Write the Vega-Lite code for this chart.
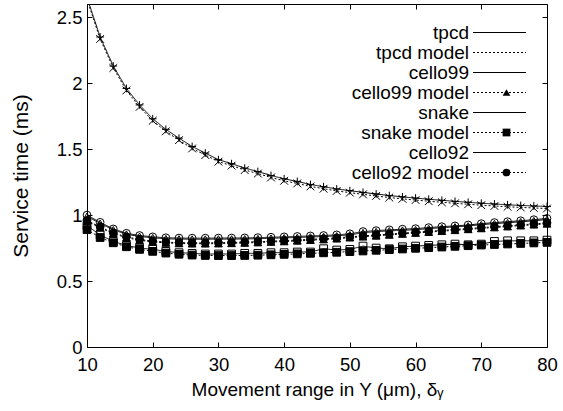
{
"$schema":"https://vega.github.io/schema/vega-lite/v6.json",
"width":460,"height":343,"autosize":"none",
"padding":{"left":87,"top":4,"right":16,"bottom":64},
"background":"white",
"config":{"view":{"stroke":"black","strokeWidth":1},
"font":"Liberation Sans",
"axis":{"grid":false,"domain":false,"tickColor":"black","tickSize":-5,"labelColor":"black","titleColor":"black","labelFont":"Liberation Sans","titleFont":"Liberation Sans","labelFontSize":18.5,"titleFontSize":19,"titleFontWeight":"normal","labelFlush":false,"labelOverlap":false},
"legend":{"labelFont":"Liberation Sans","labelColor":"black"}},
"data":{"values":[
{"x":10,"series":"tpcd","ms":2.65},{"x":12,"series":"tpcd","ms":2.35},{"x":14,"series":"tpcd","ms":2.13},{"x":16,"series":"tpcd","ms":1.96},{"x":18,"series":"tpcd","ms":1.835},{"x":20,"series":"tpcd","ms":1.73},{"x":22,"series":"tpcd","ms":1.65},{"x":24,"series":"tpcd","ms":1.583},{"x":26,"series":"tpcd","ms":1.52},{"x":28,"series":"tpcd","ms":1.47},{"x":30,"series":"tpcd","ms":1.42},{"x":32,"series":"tpcd","ms":1.39},{"x":34,"series":"tpcd","ms":1.356},{"x":36,"series":"tpcd","ms":1.33},{"x":38,"series":"tpcd","ms":1.3},{"x":40,"series":"tpcd","ms":1.275},{"x":42,"series":"tpcd","ms":1.255},{"x":44,"series":"tpcd","ms":1.232},{"x":46,"series":"tpcd","ms":1.215},{"x":48,"series":"tpcd","ms":1.198},{"x":50,"series":"tpcd","ms":1.185},{"x":52,"series":"tpcd","ms":1.172},{"x":54,"series":"tpcd","ms":1.16},{"x":56,"series":"tpcd","ms":1.148},{"x":58,"series":"tpcd","ms":1.138},{"x":60,"series":"tpcd","ms":1.129},{"x":62,"series":"tpcd","ms":1.12},{"x":64,"series":"tpcd","ms":1.112},{"x":66,"series":"tpcd","ms":1.104},{"x":68,"series":"tpcd","ms":1.097},{"x":70,"series":"tpcd","ms":1.09},{"x":72,"series":"tpcd","ms":1.084},{"x":74,"series":"tpcd","ms":1.078},{"x":76,"series":"tpcd","ms":1.073},{"x":78,"series":"tpcd","ms":1.069},{"x":80,"series":"tpcd","ms":1.065},
{"x":10,"series":"tpcd model","ms":2.635},{"x":12,"series":"tpcd model","ms":2.335},{"x":14,"series":"tpcd model","ms":2.115},{"x":16,"series":"tpcd model","ms":1.945},{"x":18,"series":"tpcd model","ms":1.82},{"x":20,"series":"tpcd model","ms":1.715},{"x":22,"series":"tpcd model","ms":1.635},{"x":24,"series":"tpcd model","ms":1.568},{"x":26,"series":"tpcd model","ms":1.505},{"x":28,"series":"tpcd model","ms":1.455},{"x":30,"series":"tpcd model","ms":1.405},{"x":32,"series":"tpcd model","ms":1.375},{"x":34,"series":"tpcd model","ms":1.341},{"x":36,"series":"tpcd model","ms":1.315},{"x":38,"series":"tpcd model","ms":1.285},{"x":40,"series":"tpcd model","ms":1.26},{"x":42,"series":"tpcd model","ms":1.24},{"x":44,"series":"tpcd model","ms":1.217},{"x":46,"series":"tpcd model","ms":1.2},{"x":48,"series":"tpcd model","ms":1.183},{"x":50,"series":"tpcd model","ms":1.17},{"x":52,"series":"tpcd model","ms":1.157},{"x":54,"series":"tpcd model","ms":1.145},{"x":56,"series":"tpcd model","ms":1.133},{"x":58,"series":"tpcd model","ms":1.123},{"x":60,"series":"tpcd model","ms":1.114},{"x":62,"series":"tpcd model","ms":1.105},{"x":64,"series":"tpcd model","ms":1.097},{"x":66,"series":"tpcd model","ms":1.089},{"x":68,"series":"tpcd model","ms":1.082},{"x":70,"series":"tpcd model","ms":1.075},{"x":72,"series":"tpcd model","ms":1.069},{"x":74,"series":"tpcd model","ms":1.063},{"x":76,"series":"tpcd model","ms":1.058},{"x":78,"series":"tpcd model","ms":1.054},{"x":80,"series":"tpcd model","ms":1.05},
{"x":10,"series":"cello99","ms":0.99},{"x":12,"series":"cello99","ms":0.937},{"x":14,"series":"cello99","ms":0.888},{"x":16,"series":"cello99","ms":0.855},{"x":18,"series":"cello99","ms":0.838},{"x":20,"series":"cello99","ms":0.828},{"x":22,"series":"cello99","ms":0.82},{"x":24,"series":"cello99","ms":0.818},{"x":26,"series":"cello99","ms":0.817},{"x":28,"series":"cello99","ms":0.817},{"x":30,"series":"cello99","ms":0.818},{"x":32,"series":"cello99","ms":0.818},{"x":34,"series":"cello99","ms":0.819},{"x":36,"series":"cello99","ms":0.821},{"x":38,"series":"cello99","ms":0.824},{"x":40,"series":"cello99","ms":0.827},{"x":42,"series":"cello99","ms":0.83},{"x":44,"series":"cello99","ms":0.834},{"x":46,"series":"cello99","ms":0.837},{"x":48,"series":"cello99","ms":0.842},{"x":50,"series":"cello99","ms":0.85},{"x":52,"series":"cello99","ms":0.866},{"x":54,"series":"cello99","ms":0.874},{"x":56,"series":"cello99","ms":0.88},{"x":58,"series":"cello99","ms":0.885},{"x":60,"series":"cello99","ms":0.889},{"x":62,"series":"cello99","ms":0.897},{"x":64,"series":"cello99","ms":0.904},{"x":66,"series":"cello99","ms":0.91},{"x":68,"series":"cello99","ms":0.917},{"x":70,"series":"cello99","ms":0.927},{"x":72,"series":"cello99","ms":0.935},{"x":74,"series":"cello99","ms":0.942},{"x":76,"series":"cello99","ms":0.949},{"x":78,"series":"cello99","ms":0.957},{"x":80,"series":"cello99","ms":0.967},
{"x":10,"series":"cello99 model","ms":0.954},{"x":12,"series":"cello99 model","ms":0.904},{"x":14,"series":"cello99 model","ms":0.859},{"x":16,"series":"cello99 model","ms":0.829},{"x":18,"series":"cello99 model","ms":0.809},{"x":20,"series":"cello99 model","ms":0.797},{"x":22,"series":"cello99 model","ms":0.789},{"x":24,"series":"cello99 model","ms":0.785},{"x":26,"series":"cello99 model","ms":0.783},{"x":28,"series":"cello99 model","ms":0.783},{"x":30,"series":"cello99 model","ms":0.784},{"x":32,"series":"cello99 model","ms":0.786},{"x":34,"series":"cello99 model","ms":0.789},{"x":36,"series":"cello99 model","ms":0.792},{"x":38,"series":"cello99 model","ms":0.796},{"x":40,"series":"cello99 model","ms":0.8},{"x":42,"series":"cello99 model","ms":0.805},{"x":44,"series":"cello99 model","ms":0.81},{"x":46,"series":"cello99 model","ms":0.815},{"x":48,"series":"cello99 model","ms":0.821},{"x":50,"series":"cello99 model","ms":0.829},{"x":52,"series":"cello99 model","ms":0.836},{"x":54,"series":"cello99 model","ms":0.843},{"x":56,"series":"cello99 model","ms":0.85},{"x":58,"series":"cello99 model","ms":0.857},{"x":60,"series":"cello99 model","ms":0.864},{"x":62,"series":"cello99 model","ms":0.871},{"x":64,"series":"cello99 model","ms":0.878},{"x":66,"series":"cello99 model","ms":0.885},{"x":68,"series":"cello99 model","ms":0.892},{"x":70,"series":"cello99 model","ms":0.899},{"x":72,"series":"cello99 model","ms":0.906},{"x":74,"series":"cello99 model","ms":0.913},{"x":76,"series":"cello99 model","ms":0.92},{"x":78,"series":"cello99 model","ms":0.927},{"x":80,"series":"cello99 model","ms":0.934},
{"x":10,"series":"snake","ms":0.92},{"x":12,"series":"snake","ms":0.85},{"x":14,"series":"snake","ms":0.8},{"x":16,"series":"snake","ms":0.77},{"x":18,"series":"snake","ms":0.75},{"x":20,"series":"snake","ms":0.74},{"x":22,"series":"snake","ms":0.725},{"x":24,"series":"snake","ms":0.715},{"x":26,"series":"snake","ms":0.71},{"x":28,"series":"snake","ms":0.705},{"x":30,"series":"snake","ms":0.705},{"x":32,"series":"snake","ms":0.705},{"x":34,"series":"snake","ms":0.71},{"x":36,"series":"snake","ms":0.71},{"x":38,"series":"snake","ms":0.715},{"x":40,"series":"snake","ms":0.715},{"x":42,"series":"snake","ms":0.72},{"x":44,"series":"snake","ms":0.72},{"x":46,"series":"snake","ms":0.745},{"x":48,"series":"snake","ms":0.735},{"x":50,"series":"snake","ms":0.74},{"x":52,"series":"snake","ms":0.765},{"x":54,"series":"snake","ms":0.75},{"x":56,"series":"snake","ms":0.745},{"x":58,"series":"snake","ms":0.76},{"x":60,"series":"snake","ms":0.765},{"x":62,"series":"snake","ms":0.77},{"x":64,"series":"snake","ms":0.775},{"x":66,"series":"snake","ms":0.78},{"x":68,"series":"snake","ms":0.775},{"x":70,"series":"snake","ms":0.78},{"x":72,"series":"snake","ms":0.8},{"x":74,"series":"snake","ms":0.805},{"x":76,"series":"snake","ms":0.805},{"x":78,"series":"snake","ms":0.805},{"x":80,"series":"snake","ms":0.81},
{"x":10,"series":"snake model","ms":0.89},{"x":12,"series":"snake model","ms":0.83},{"x":14,"series":"snake model","ms":0.79},{"x":16,"series":"snake model","ms":0.76},{"x":18,"series":"snake model","ms":0.74},{"x":20,"series":"snake model","ms":0.725},{"x":22,"series":"snake model","ms":0.712},{"x":24,"series":"snake model","ms":0.703},{"x":26,"series":"snake model","ms":0.697},{"x":28,"series":"snake model","ms":0.694},{"x":30,"series":"snake model","ms":0.693},{"x":32,"series":"snake model","ms":0.693},{"x":34,"series":"snake model","ms":0.694},{"x":36,"series":"snake model","ms":0.696},{"x":38,"series":"snake model","ms":0.699},{"x":40,"series":"snake model","ms":0.702},{"x":42,"series":"snake model","ms":0.706},{"x":44,"series":"snake model","ms":0.71},{"x":46,"series":"snake model","ms":0.714},{"x":48,"series":"snake model","ms":0.718},{"x":50,"series":"snake model","ms":0.723},{"x":52,"series":"snake model","ms":0.728},{"x":54,"series":"snake model","ms":0.733},{"x":56,"series":"snake model","ms":0.738},{"x":58,"series":"snake model","ms":0.743},{"x":60,"series":"snake model","ms":0.748},{"x":62,"series":"snake model","ms":0.753},{"x":64,"series":"snake model","ms":0.758},{"x":66,"series":"snake model","ms":0.763},{"x":68,"series":"snake model","ms":0.768},{"x":70,"series":"snake model","ms":0.773},{"x":72,"series":"snake model","ms":0.777},{"x":74,"series":"snake model","ms":0.781},{"x":76,"series":"snake model","ms":0.785},{"x":78,"series":"snake model","ms":0.789},{"x":80,"series":"snake model","ms":0.793},
{"x":10,"series":"cello92","ms":1.0},{"x":12,"series":"cello92","ms":0.945},{"x":14,"series":"cello92","ms":0.895},{"x":16,"series":"cello92","ms":0.862},{"x":18,"series":"cello92","ms":0.845},{"x":20,"series":"cello92","ms":0.835},{"x":22,"series":"cello92","ms":0.828},{"x":24,"series":"cello92","ms":0.826},{"x":26,"series":"cello92","ms":0.825},{"x":28,"series":"cello92","ms":0.825},{"x":30,"series":"cello92","ms":0.826},{"x":32,"series":"cello92","ms":0.826},{"x":34,"series":"cello92","ms":0.827},{"x":36,"series":"cello92","ms":0.829},{"x":38,"series":"cello92","ms":0.832},{"x":40,"series":"cello92","ms":0.835},{"x":42,"series":"cello92","ms":0.838},{"x":44,"series":"cello92","ms":0.842},{"x":46,"series":"cello92","ms":0.845},{"x":48,"series":"cello92","ms":0.85},{"x":50,"series":"cello92","ms":0.858},{"x":52,"series":"cello92","ms":0.875},{"x":54,"series":"cello92","ms":0.882},{"x":56,"series":"cello92","ms":0.888},{"x":58,"series":"cello92","ms":0.893},{"x":60,"series":"cello92","ms":0.897},{"x":62,"series":"cello92","ms":0.905},{"x":64,"series":"cello92","ms":0.912},{"x":66,"series":"cello92","ms":0.918},{"x":68,"series":"cello92","ms":0.925},{"x":70,"series":"cello92","ms":0.935},{"x":72,"series":"cello92","ms":0.943},{"x":74,"series":"cello92","ms":0.95},{"x":76,"series":"cello92","ms":0.957},{"x":78,"series":"cello92","ms":0.965},{"x":80,"series":"cello92","ms":0.975},
{"x":10,"series":"cello92 model","ms":0.96},{"x":12,"series":"cello92 model","ms":0.91},{"x":14,"series":"cello92 model","ms":0.865},{"x":16,"series":"cello92 model","ms":0.835},{"x":18,"series":"cello92 model","ms":0.815},{"x":20,"series":"cello92 model","ms":0.803},{"x":22,"series":"cello92 model","ms":0.795},{"x":24,"series":"cello92 model","ms":0.791},{"x":26,"series":"cello92 model","ms":0.789},{"x":28,"series":"cello92 model","ms":0.789},{"x":30,"series":"cello92 model","ms":0.79},{"x":32,"series":"cello92 model","ms":0.792},{"x":34,"series":"cello92 model","ms":0.795},{"x":36,"series":"cello92 model","ms":0.798},{"x":38,"series":"cello92 model","ms":0.802},{"x":40,"series":"cello92 model","ms":0.806},{"x":42,"series":"cello92 model","ms":0.811},{"x":44,"series":"cello92 model","ms":0.816},{"x":46,"series":"cello92 model","ms":0.821},{"x":48,"series":"cello92 model","ms":0.827},{"x":50,"series":"cello92 model","ms":0.835},{"x":52,"series":"cello92 model","ms":0.842},{"x":54,"series":"cello92 model","ms":0.849},{"x":56,"series":"cello92 model","ms":0.856},{"x":58,"series":"cello92 model","ms":0.863},{"x":60,"series":"cello92 model","ms":0.87},{"x":62,"series":"cello92 model","ms":0.877},{"x":64,"series":"cello92 model","ms":0.884},{"x":66,"series":"cello92 model","ms":0.891},{"x":68,"series":"cello92 model","ms":0.898},{"x":70,"series":"cello92 model","ms":0.905},{"x":72,"series":"cello92 model","ms":0.912},{"x":74,"series":"cello92 model","ms":0.919},{"x":76,"series":"cello92 model","ms":0.926},{"x":78,"series":"cello92 model","ms":0.933},{"x":80,"series":"cello92 model","ms":0.94}
]},
"layer":[
{"transform":[{"filter":"datum.ms <= 2.6"}],
 "mark":{"type":"point","filled":false,"stroke":"black","strokeWidth":1,"opacity":1,"size":60},
 "encoding":{
  "x":{"field":"x","type":"quantitative","scale":{"domain":[10,80],"nice":false,"zero":false},"axis":{"orient":"top","labels":false,"title":null,"values":[10,20,30,40,50,60,70,80]}},
  "y":{"field":"ms","type":"quantitative","scale":{"domain":[0,2.6],"nice":false,"zero":true},"axis":{"orient":"right","labels":false,"title":null,"values":[0,0.5,1,1.5,2,2.5]}},
  "shape":{"field":"series","type":"nominal",
       "scale":{"domain":["tpcd","tpcd model","cello99","cello99 model","snake","snake model","cello92","cello92 model"],
                "range":["M-1,0H1M0,-1V1","M-1,-1L1,1M-1,1L1,-1","triangle-up","triangle-up","square","square","circle","circle"]},
       "legend":{"orient":"none","legendX":410,"legendY":19,"padding":0,"title":null,"symbolSize":60,"symbolStrokeColor":"black","symbolStrokeWidth":1.2,"symbolOpacity":1,"labelAlign":"right","labelOffset":-47,"labelFontSize":19,"rowPadding":-2.5,
                 "encode":{"symbols":{"update":{"fill":{"signal":"indexof(datum.value, 'model') > 0 && datum.value != 'tpcd model' ? 'black' : 'transparent'"},"stroke":{"value":"black"},"strokeOpacity":{"value":1},"strokeWidth":{"value":1.2},"opacity":{"value":1}}}}}},
  "fill":{"field":"series","type":"nominal",
       "scale":{"domain":["tpcd","tpcd model","cello99","cello99 model","snake","snake model","cello92","cello92 model"],
                "range":["transparent","transparent","transparent","black","transparent","black","transparent","black"]},
       "legend":null}
 }},
{"mark":{"type":"line","color":"black","strokeWidth":1,"clip":true},
 "encoding":{
  "x":{"field":"x","type":"quantitative",
       "axis":{"orient":"bottom","values":[10,20,30,40,50,60,70,80],"title":"Movement range in Y (μm), δᵧ","labelPadding":13,"titlePadding":7}},
  "y":{"field":"ms","type":"quantitative",
       "axis":{"orient":"left","values":[0,0.5,1,1.5,2,2.5],"format":"~g","title":"Service time (ms)","titleFontSize":21,"labelPadding":10,"titlePadding":25}},
  "strokeDash":{"field":"series","type":"nominal",
       "scale":{"domain":["tpcd","tpcd model","cello99","cello99 model","snake","snake model","cello92","cello92 model"],
                "range":[[1,0],[2,2],[1,0],[2,2],[1,0],[2,2],[1,0],[2,2]]},
       "legend":{"orient":"top-right","offset":19,"padding":0,"title":null,"symbolType":"M-6,0H6","symbolSize":78,"symbolStrokeColor":"black","symbolStrokeWidth":1,"labelExpr":"' '","labelFontSize":19,"labelOffset":0,"rowPadding":-2.5}}
 }}
]
}
